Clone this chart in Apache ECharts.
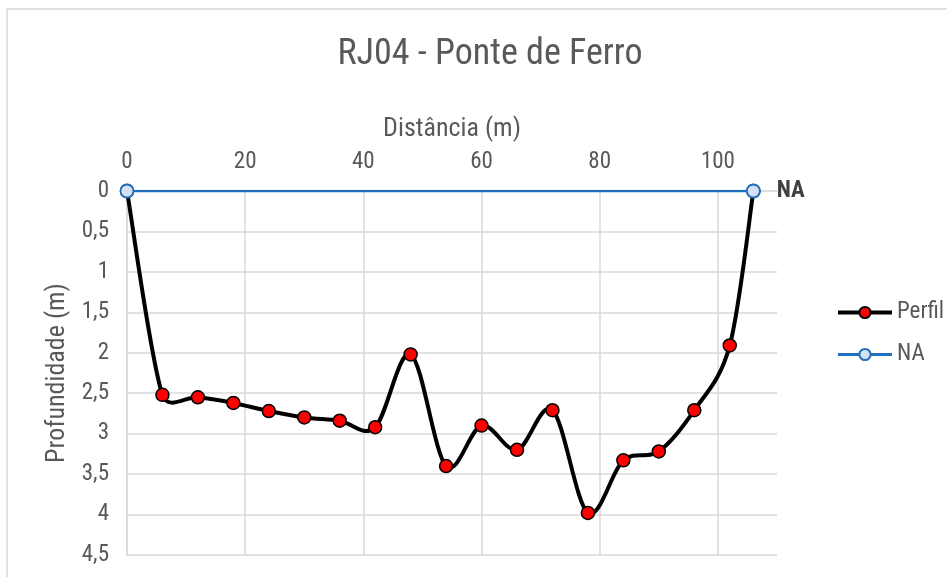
<!DOCTYPE html>
<html>
<head>
<meta charset="utf-8">
<script src="https://cdn.jsdelivr.net/npm/echarts@6/dist/echarts.min.js"></script>
<style>html,body{margin:0;padding:0;background:#fff}#c{width:947px;height:577px}</style>
</head>
<body>
<div id="c"></div>
<script>
const distances = [0, 6, 12, 18, 24, 30, 36, 42, 48, 54, 60, 66, 72, 78, 84, 90, 96, 102, 106];
const perfil = [0, 2.52, 2.55, 2.62, 2.72, 2.80, 2.84, 2.92, 2.02, 3.40, 2.90, 3.20, 2.71, 3.98, 3.33, 3.22, 2.71, 1.91, 0];
const naX = [0, 106];
const naY = [0, 0];
const titleText = 'RJ04 - Ponte de Ferro';
const xName = 'Distância (m)';
const yName = 'Profundidade (m)';

const FONT = "'Liberation Sans Narrow', 'Roboto Condensed', 'Arial Narrow', sans-serif";
const chart = echarts.init(document.getElementById('c'));

// Excel-like smoothed line (Bezier with capped tangents) built from data via the axis scales
function renderSmooth(params, api) {
  if (params.dataIndex !== 0) return null;
  const pts = distances.map((d, i) => api.coord([d, perfil[i]]));
  const n = pts.length;
  const dist = (a, b) => Math.hypot(a[0] - b[0], a[1] - b[1]);
  let path = 'M' + pts[0][0] + ' ' + pts[0][1];
  for (let i = 0; i < n - 1; i++) {
    const p0 = pts[Math.max(i - 1, 0)], p1 = pts[i], p2 = pts[i + 1], p3 = pts[Math.min(i + 2, n - 1)];
    const d02 = dist(p0, p2), d12 = dist(p1, p2), d13 = dist(p1, p3);
    let f = 1 / 6, g = 1 / 6;
    if (d02 / 6 >= d12 / 2 && d02 > 0) f = d12 / d02 / 2;
    if (d13 / 6 >= d12 / 2 && d13 > 0) g = d12 / d13 / 2;
    const c1x = p1[0] + (p2[0] - p0[0]) * f, c1y = p1[1] + (p2[1] - p0[1]) * f;
    const c2x = p2[0] - (p3[0] - p1[0]) * g, c2y = p2[1] - (p3[1] - p1[1]) * g;
    path += ' C' + c1x + ' ' + c1y + ' ' + c2x + ' ' + c2y + ' ' + p2[0] + ' ' + p2[1];
  }
  return {
    type: 'path', shape: { pathData: path },
    style: { fill: 'none', stroke: '#000', lineWidth: 4, lineJoin: 'round', lineCap: 'round' }
  };
}

chart.setOption({
  animation: false,
  textStyle: { fontFamily: FONT },
  title: {
    text: titleText, left: 485, top: 32, textAlign: 'center',
    textStyle: { fontFamily: FONT, fontSize: 36, fontWeight: 'normal', color: '#595959' }
  },
  graphic: [{
    type: 'rect', shape: { x: 7, y: 9, width: 960, height: 600 },
    style: { fill: 'none', stroke: '#d9d9d9', lineWidth: 1.5 }, silent: true
  }],
  legend: {
    orient: 'vertical', left: 831, top: 296, itemWidth: 54, itemHeight: 14, itemGap: 19,
    textStyle: { fontFamily: FONT, fontSize: 23, color: '#595959' },
    data: [
      { name: 'Perfil', lineStyle: { color: '#000', width: 4, opacity: 1 } },
      { name: 'NA', lineStyle: { color: '#1f6fbf', width: 3, opacity: 1 } }
    ]
  },
  grid: { left: 127, top: 191, right: 170, bottom: 22, containLabel: false },
  xAxis: {
    type: 'value', position: 'top', min: 0, max: 110, interval: 20,
    name: xName, nameLocation: 'middle', nameGap: 49,
    nameTextStyle: { fontFamily: FONT, fontSize: 26, color: '#595959' },
    axisLine: { show: true, lineStyle: { color: '#d9d9d9', width: 1.5 } },
    axisTick: { show: false },
    axisLabel: { margin: 17, fontFamily: FONT, fontSize: 23, color: '#595959', showMaxLabel: false },
    splitLine: { show: true, showMaxLine: false, lineStyle: { color: '#d9d9d9', width: 1.5 } }
  },
  yAxis: {
    type: 'value', inverse: true, min: 0, max: 4.5, interval: 0.5,
    name: yName, nameLocation: 'middle', nameGap: 56,
    nameTextStyle: { fontFamily: FONT, fontSize: 26, color: '#595959' },
    axisLine: { show: true, lineStyle: { color: '#d9d9d9', width: 1.5 } },
    axisTick: { show: false },
    axisLabel: { margin: 18, fontFamily: FONT, fontSize: 23, color: '#595959',
      formatter: v => String(v).replace('.', ',') },
    splitLine: { show: true, lineStyle: { color: '#d9d9d9', width: 1.5 } }
  },
  series: [{
    name: 'PerfilCurve', type: 'custom', renderItem: renderSmooth,
    data: distances.map((d, i) => [d, perfil[i]]),
    silent: true, z: 1
  }, {
    name: 'Perfil', type: 'line',
    data: distances.map((d, i) => [d, perfil[i]]),
    symbol: 'circle', symbolSize: 13,
    lineStyle: { color: '#000', width: 4, opacity: 0 },
    itemStyle: { color: '#ff0000', borderColor: '#000', borderWidth: 1.5 },
    z: 2
  }, {
    name: 'NA', type: 'line',
    data: naX.map((d, i) => [d, naY[i]]),
    symbol: 'circle', symbolSize: 13,
    lineStyle: { color: '#1f6fbf', width: 2.5 },
    itemStyle: { color: '#d6e0f0', borderColor: '#1f6fbf', borderWidth: 1.8 },
    label: {
      show: true, position: 'right', distance: 16,
      formatter: p => p.dataIndex === naX.length - 1 ? 'NA' : '',
      fontFamily: FONT, fontSize: 23, fontWeight: 'bold', color: '#404040'
    },
    z: 3
  }]
});
</script>
</body>
</html>
